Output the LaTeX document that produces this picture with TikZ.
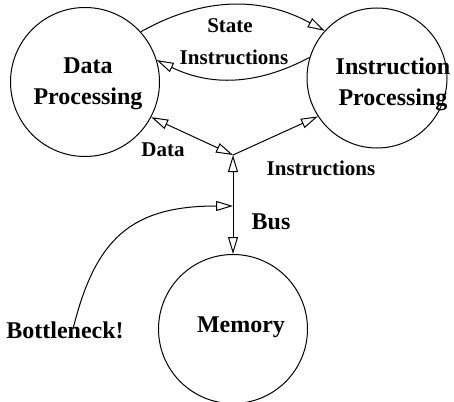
\documentclass[tikz,border=0pt]{standalone}
\usepackage{fontspec}
\setmainfont{Liberation Serif}
\usetikzlibrary{arrows.meta}

\begin{document}
\begin{tikzpicture}[x=0.5pt, y=-0.5pt, line width=0.5pt,
        >={Triangle[open, length=8.5pt, width=5pt]},
        unit/.style={draw, circle, minimum size=74.5pt, inner sep=0pt},
        bigtxt/.style={font=\bfseries\fontsize{12}{15.5}\selectfont, align=center, inner sep=1pt},
        smalltxt/.style={font=\bfseries\fontsize{10.5}{12.5}\selectfont, align=center, inner sep=1pt}]
    \useasboundingbox (0,0) rectangle (454,401);

    % the three units
    \node[unit] (data-proc) at (85,82) {};
    \node[unit, minimum size=70pt] (instr-proc) at (377,78) {};
    \node[unit] (memory) at (233,329) {};
    \node[bigtxt] (data-txt) at (88,84) {Data\\Processing};
    \node[bigtxt] (instr-txt) at (393,84) {Instruction\\Processing};
    \node[bigtxt] (memory-txt) at (241,327) {Memory};

    % traffic between the processing units
    \draw[->] (data-proc.42) to[bend left=29] (instr-proc.138);
    \draw[->] (instr-proc.163) to[bend left=27] (data-proc.17);
    \node[smalltxt] (state-lbl) at (230,26) {State};
    \node[smalltxt] (instr-lbl) at (234,57) {Instructions};

    % the bus
    \coordinate (hub) at (233,155);
    \coordinate (tap) at (233,206);
    \draw[<->] (hub) -- (data-proc.-28);
    \draw[->] (hub) -- (instr-proc.213);
    \draw[<->] (hub) -- (memory.north);
    \node[smalltxt] (data-lbl) at (163,150) {Data};
    \node[smalltxt] (fetch-lbl) at (321,168) {Instructions};
    \node[bigtxt] (bus-lbl) at (271,222) {Bus};

    \node[bigtxt] (neck-lbl) at (65,330) {Bottleneck!};
    \draw[->] ([shift={(8,10)}]neck-lbl.north) .. controls (95,240) and (130,206) .. (tap);
\end{tikzpicture}
\end{document}
